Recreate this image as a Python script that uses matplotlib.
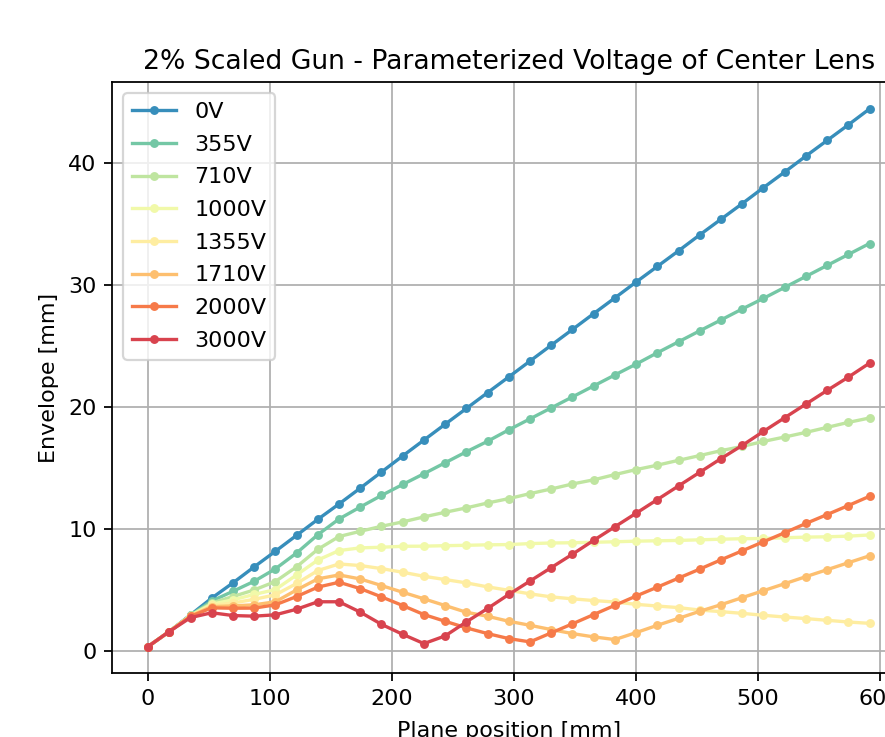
import matplotlib
matplotlib.use('Agg')
import matplotlib.pyplot as plt
import numpy as np

# plane positions [mm]
position = [0.0, 17.4, 34.8, 52.2, 69.6, 87.0, 104.4, 121.8, 139.2, 156.6,
            174.0, 191.4, 208.8, 226.2, 243.6, 261.0, 278.4, 295.8, 313.2,
            330.6, 348.0, 365.4, 382.8, 400.2, 417.6, 435.0, 452.4, 469.8,
            487.2, 504.6, 522.0, 539.4, 556.8, 574.2, 591.6]

voltages = ['0V', '355V', '710V', '1000V', '1355V', '1710V', '2000V', '3000V']

# envelope [mm] for each center lens voltage
env_0 = [0.33, 1.56, 2.92, 4.30, 5.55, 6.86, 8.14, 9.45, 10.76, 12.02,
         13.32, 14.64, 15.96, 17.26, 18.56, 19.85, 21.15, 22.44, 23.74,
         25.04, 26.33, 27.63, 28.92, 30.22, 31.50, 32.78, 34.09, 35.37,
         36.65, 37.96, 39.24, 40.55, 41.83, 43.11, 44.42]
env_355 = [0.33, 1.56, 2.90, 4.06, 4.86, 5.68, 6.70, 8.00, 9.50, 10.79,
           11.77, 12.72, 13.62, 14.50, 15.40, 16.30, 17.16, 18.10, 19.00,
           19.90, 20.80, 21.70, 22.60, 23.49, 24.42, 25.32, 26.22, 27.11,
           28.01, 28.88, 29.78, 30.68, 31.58, 32.48, 33.38]
env_710 = [0.33, 1.56, 2.88, 3.90, 4.43, 4.97, 5.66, 6.87, 8.30, 9.35,
           9.78, 10.19, 10.55, 10.96, 11.34, 11.70, 12.10, 12.46, 12.87,
           13.25, 13.66, 14.00, 14.43, 14.84, 15.20, 15.60, 15.99, 16.39,
           16.74, 17.15, 17.51, 17.89, 18.30, 18.71, 19.07]
env_1000 = [0.33, 1.56, 2.86, 3.80, 4.16, 4.60, 5.00, 6.20, 7.42, 8.20,
            8.42, 8.47, 8.55, 8.56, 8.60, 8.63, 8.67, 8.69, 8.77, 8.82,
            8.84, 8.88, 8.92, 8.97, 9.00, 9.03, 9.08, 9.13, 9.17, 9.19,
            9.25, 9.30, 9.33, 9.38, 9.48]
env_1355 = [0.33, 1.56, 2.85, 3.70, 3.90, 4.20, 4.57, 5.50, 6.56, 7.10,
            6.97, 6.72, 6.42, 6.09, 5.82, 5.55, 5.22, 4.94, 4.65, 4.40,
            4.24, 4.10, 3.98, 3.79, 3.65, 3.52, 3.32, 3.19, 3.05, 2.89,
            2.75, 2.62, 2.48, 2.34, 2.23]
env_1710 = [0.33, 1.56, 2.83, 3.60, 3.66, 3.75, 4.00, 4.97, 5.88, 6.20,
            5.87, 5.33, 4.78, 4.24, 3.69, 3.14, 2.81, 2.40, 2.07, 1.72,
            1.39, 1.12, 0.90, 1.47, 2.07, 2.64, 3.22, 3.76, 4.34, 4.91,
            5.48, 6.06, 6.63, 7.20, 7.77]
env_2000 = [0.33, 1.56, 2.80, 3.50, 3.47, 3.48, 3.75, 4.43, 5.20, 5.60,
            5.08, 4.40, 3.69, 2.95, 2.40, 1.86, 1.39, 0.98, 0.71, 1.45,
            2.19, 2.95, 3.71, 4.47, 5.20, 5.94, 6.68, 7.44, 8.18, 8.92,
            9.66, 10.42, 11.15, 11.89, 12.65]
env_3000 = [0.33, 1.56, 2.70, 3.10, 2.87, 2.82, 2.93, 3.39, 4.00, 4.00,
            3.15, 2.15, 1.33, 0.57, 1.20, 2.35, 3.45, 4.60, 5.70, 6.80,
            7.90, 9.04, 10.15, 11.26, 12.38, 13.50, 14.62, 15.74, 16.82,
            17.97, 19.09, 20.21, 21.33, 22.42, 23.57]

envelopes = [env_0, env_355, env_710, env_1000, env_1355, env_1710, env_2000, env_3000]

colors = plt.cm.Spectral_r(np.linspace(0, 1, len(voltages) + 2)[1:-1])

fig = plt.figure(figsize=(885 / 160, 737 / 160), dpi=160)
ax = fig.add_axes((112 / 885, 63.6 / 737, 793.6 / 885, 591.4 / 737))

for volt, env, col in zip(voltages, envelopes, colors):
    ax.plot(position, env, '-o', color=col, markersize=3, label=volt)

ax.grid(True)
ax.legend(loc='upper left', labelspacing=0.57)
ax.set_title('2% Scaled Gun - Parameterized Voltage of Center Lens')
ax.set_xlabel('Plane position [mm]', labelpad=5.4)
ax.set_ylabel('Envelope [mm]')

plt.savefig('out.png', dpi=160)
